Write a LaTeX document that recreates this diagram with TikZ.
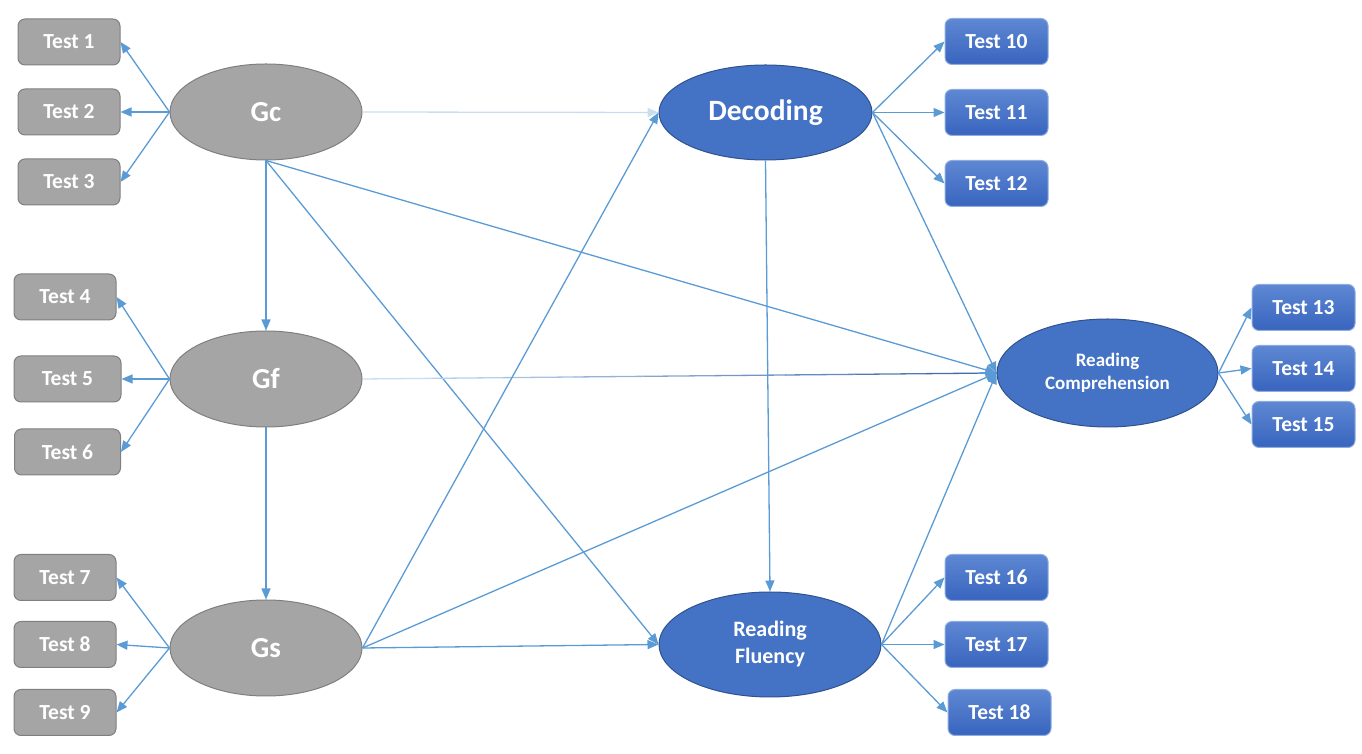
\documentclass[tikz,border=0pt]{standalone}
\usepackage{fontspec}
\setmainfont{Carlito}
\usetikzlibrary{shapes.geometric, arrows.meta, positioning, calc}
\definecolor{greyfill}{HTML}{A5A5A5}
\definecolor{greyline}{HTML}{7F7F7F}
\definecolor{bluefill}{HTML}{4472C4}
\definecolor{blueline}{HTML}{2F528F}
\definecolor{boxtop}{HTML}{5E88D3}
\definecolor{boxbot}{HTML}{3864BE}
\definecolor{arrowblue}{HTML}{5B9BD5}
\definecolor{paleblue}{HTML}{C9DDF1}
\definecolor{darkblue}{HTML}{2E5F9E}
\tikzstyle{greytest} =[rectangle, rounded corners=7pt, minimum width=102pt, minimum height=46pt, line width=1pt, draw=greyline, fill=greyfill, text=white, font=\fontsize{21.5}{24}\selectfont\bfseries]
\tikzstyle{bluetest} =[rectangle, rounded corners=7pt, minimum width=103pt, minimum height=46pt, line width=1pt, draw=boxtop!70!white, top color=boxtop, bottom color=boxbot, text=white, font=\fontsize{21.5}{24}\selectfont\bfseries]
\tikzstyle{greyfactor} =[ellipse, minimum width=192pt, minimum height=96pt, line width=1pt, draw=greyline, fill=greyfill, text=white, font=\fontsize{29}{32}\selectfont\bfseries]
\tikzstyle{bluefactor} =[ellipse, line width=1pt, draw=blueline, fill=bluefill, text=white, align=center]
\tikzstyle{arrow} =[line width=1.3pt, draw=arrowblue, -{Triangle[length=11pt,width=9pt]}]

\begin{document}
\begin{tikzpicture}[x=1pt, y=1pt, node distance=24pt]
\useasboundingbox (0,0) rectangle (1362,754);
\node (gc) [greyfactor] at (266,642) {Gc};
\node (gf) [greyfactor] at (266,375) {Gf};
\node (gs) [greyfactor] at (266,106) {Gs};
\node (dec) [bluefactor, minimum width=213pt, minimum height=95pt, font=\fontsize{29.5}{32}\selectfont\bfseries] at (765.5,641.5) {Decoding};
\node (rf) [bluefactor, minimum width=222pt, minimum height=105pt, font=\fontsize{22}{27}\selectfont\bfseries] at (770,109.5) {Reading\\Fluency};
\node (rc) [bluefactor, minimum width=221pt, minimum height=108pt, font=\fontsize{19}{23}\selectfont\bfseries] at (1107.5,381) {Reading\\Comprehension};
\node (t2) [greytest, left=49pt of gc] {Test 2};
\node (t1) [greytest, above of=t2, yshift=46pt, node distance=24pt] {Test 1};
\node (t3) [greytest, below of=t2, yshift=-46pt, node distance=24pt] {Test 3};
\node (t5) [greytest, minimum width=107pt, left=48pt of gf] {Test 5};
\node (t4) [greytest, above=35pt of t5, xshift=-2.5pt] {Test 4};
\node (t6) [greytest, minimum width=106pt, below=26pt of t5] {Test 6};
\node (t8) [greytest, left=53pt of gs, yshift=3.5pt] {Test 8};
\node (t7) [greytest, above=20pt of t8] {Test 7};
\node (t9) [greytest, below=21pt of t8] {Test 9};
\node (t11) [bluetest, right=72pt of dec] {Test 11};
\node (t10) [bluetest, above=of t11] {Test 10};
\node (t12) [bluetest, below=of t11] {Test 12};
\node (t14) [bluetest, right=33pt of rc, yshift=4.5pt] {Test 14};
\node (t13) [bluetest, above=14pt of t14] {Test 13};
\node (t15) [bluetest, below=9pt of t14] {Test 15};
\node (t17) [bluetest, right=63pt of rf] {Test 17};
\node (t16) [bluetest, above=20pt of t17] {Test 16};
\node (t18) [bluetest, below=21pt of t17, xshift=3pt] {Test 18};
\draw [arrow] (gc.west)--(t1.east);
\draw [arrow] (gc.west)--(t2.east);
\draw [arrow] (gc.west)--(t3.east);
\draw [arrow] (gf.west)--(t4.east);
\draw [arrow] (gf.west)--(t5.east);
\draw [arrow] (gf.west)--(t6.east);
\draw [arrow] (gs.west)--(t7.east);
\draw [arrow] (gs.west)--(t8.east);
\draw [arrow] (gs.west)--(t9.east);
\draw [arrow, draw=paleblue] (gc.east)--(dec.west);
\draw [arrow] (gc.south)--(gf.north);
\draw [arrow] (gf.south)--(gs.north);
\draw [arrow] (gc.south)--(rf.west);
\draw [arrow] (gc.south)--(rc.west);
\foreach \i [evaluate=\i as \j using int(\i*11)] in {0,...,8}
  \draw [line width=1.3pt, draw=darkblue!\j!paleblue] ($(gf.east)!\i/9!(rc.west)$)--($(gf.east)!\i/9+0.112!(rc.west)$);
\draw [arrow] ($(gf.east)!0.97!(rc.west)$)--(rc.west);
\draw [arrow] (gs.east)--(dec.west);
\draw [arrow] (gs.east)--(rc.west);
\draw [arrow] (gs.east)--(rf.west);
\draw [arrow] (dec.south)--(rf.north);
\draw [arrow] (dec.east)--(rc.west);
\draw [arrow] (rf.east)--(rc.west);
\draw [arrow] (dec.east)--(t10.west);
\draw [arrow] (dec.east)--(t11.west);
\draw [arrow] (dec.east)--(t12.west);
\draw [arrow] (rc.east)--(t13.west);
\draw [arrow] (rc.east)--(t14.west);
\draw [arrow] (rc.east)--(t15.west);
\draw [arrow] (rf.east)--(t16.west);
\draw [arrow] (rf.east)--(t17.west);
\draw [arrow] (rf.east)--(t18.west);
\end{tikzpicture}
\end{document}
